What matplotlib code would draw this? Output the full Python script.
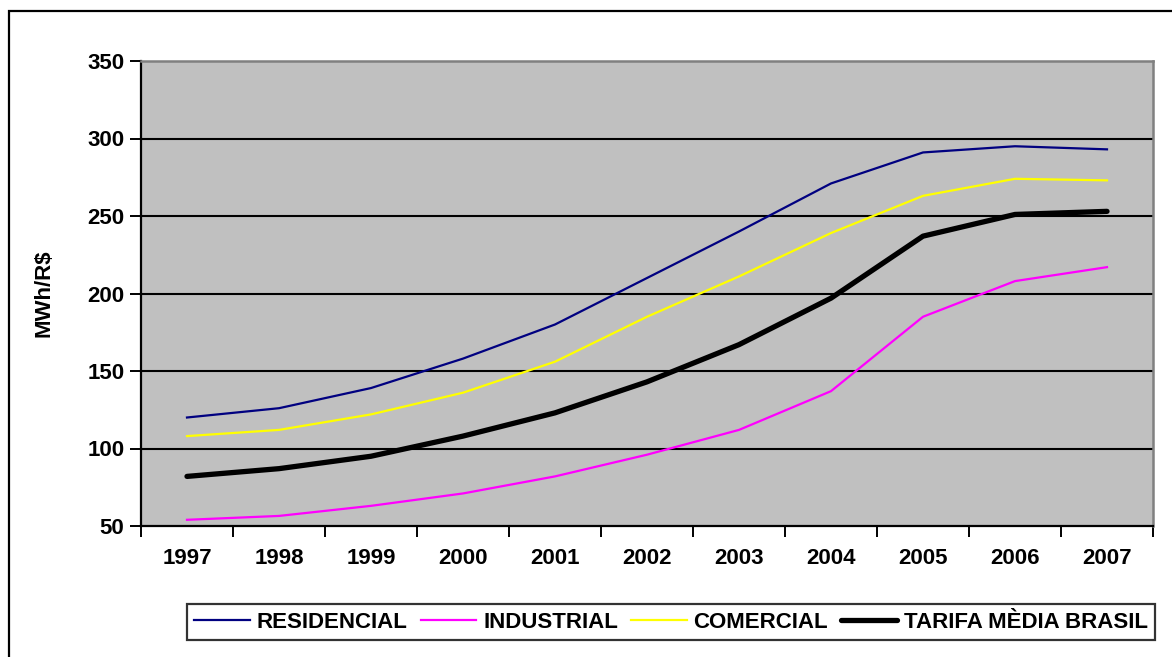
import matplotlib
matplotlib.use("Agg")
import matplotlib.pyplot as plt
from matplotlib.patches import Rectangle
import numpy as np

plt.rcParams["font.family"] = ["Liberation Sans", "DejaVu Sans"]
plt.rcParams["font.weight"] = "bold"

years = ["1997", "1998", "1999", "2000", "2001", "2002",
         "2003", "2004", "2005", "2006", "2007"]
residencial = [120, 126, 139, 158, 180, 210, 240, 271, 291, 295, 293]
industrial = [54, 56.5, 63, 71, 82, 96, 112, 137, 185, 208, 217]
comercial = [108, 112, 122, 136, 156, 185, 211, 239, 263, 274, 273]
tarifa_media = [82, 87, 95, 108, 123, 143, 167, 197, 237, 251, 253]
y_ticks = [50, 100, 150, 200, 250, 300, 350]

W, H = 1172, 657
fig = plt.figure(figsize=(W / 100, H / 100), dpi=100)
fig.patch.set_facecolor("white")

# outer chart frame (left and top edges fall inside the canvas)
fig.add_artist(Rectangle((9 / W, -0.2), 2.0, 1 - 11 / H + 0.2,
                         transform=fig.transFigure, fill=False,
                         edgecolor="black", linewidth=1.6))

ax = fig.add_axes([141 / W, (H - 526) / H, (1153 - 141) / W, (526 - 61) / H])
ax.set_facecolor("#C0C0C0")

x = np.arange(len(years))
ax.plot(x, residencial, color="#000080", lw=1.6, label="RESIDENCIAL", zorder=3)
ax.plot(x, industrial, color="#FF00FF", lw=1.6, label="INDUSTRIAL", zorder=3)
ax.plot(x, comercial, color="#FFFF00", lw=1.6, label="COMERCIAL", zorder=3)
ax.plot(x, tarifa_media, color="black", lw=3.8, label="TARIFA MÈDIA BRASIL",
        zorder=4, solid_capstyle="round")

ax.set_xlim(-0.5, len(years) - 0.5)
ax.set_ylim(y_ticks[0], y_ticks[-1])
ax.set_yticks(y_ticks)
ax.set_yticklabels([str(v) for v in y_ticks])
ax.set_xticks(x)
ax.set_xticklabels(years)
ax.set_xticks(np.arange(-0.5, len(years), 1.0), minor=True)

for v in y_ticks[1:-1]:
    ax.axhline(v, color="black", lw=1.5, zorder=1)

ax.tick_params(axis="x", which="major", length=0, pad=16, labelsize=16)
ax.tick_params(axis="x", which="minor", length=8, width=1.4, direction="out")
ax.tick_params(axis="y", length=8, width=1.4, direction="out", pad=4,
               labelsize=16)

for side in ("left", "bottom"):
    ax.spines[side].set_color("black")
    ax.spines[side].set_linewidth(1.6)
for side in ("right", "top"):
    ax.spines[side].set_color("#808080")
    ax.spines[side].set_linewidth(1.8)

fig.text(44 / W, 1 - 293 / H, "MWh/R$", rotation=90, fontsize=16,
         fontweight="bold", ha="center", va="center")

leg = fig.legend(loc="center", ncol=4,
                 bbox_to_anchor=((186 + 1156) / 2 / W, 1 - 622 / H),
                 fontsize=16, frameon=True, fancybox=False, shadow=False,
                 handlelength=2.5, handletextpad=0.3, columnspacing=0.6,
                 borderpad=0.35, borderaxespad=0)
leg.get_frame().set_edgecolor("black")
leg.get_frame().set_linewidth(1.6)
for t in leg.get_texts():
    t.set_fontweight("bold")

fig.savefig("out.png", dpi=100)
